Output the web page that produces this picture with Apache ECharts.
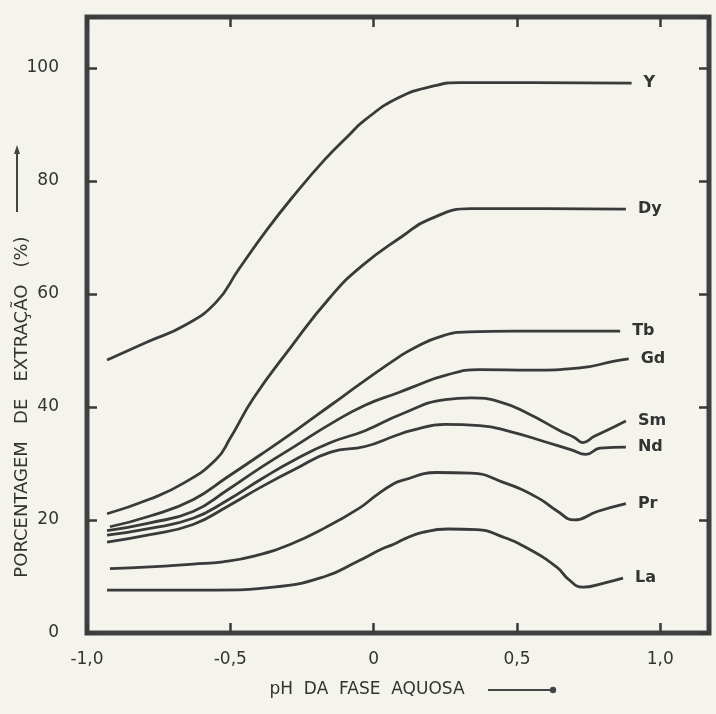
<!DOCTYPE html>
<html>
<head>
<meta charset="utf-8">
<script src="https://cdn.jsdelivr.net/npm/echarts@6/dist/echarts.min.js"></script>
<style>
html,body{margin:0;padding:0;background:#f4f3ec;}
#chart{width:716px;height:714px;}
</style>
</head>
<body>
<div id="chart"></div>
<script>
// pH ticks and y ticks
const xTicks = [-1.0, -0.5, 0, 0.5, 1.0];
const yTicks = [0, 20, 40, 60, 80, 100];
const elements = ['Y', 'Dy', 'Tb', 'Gd', 'Sm', 'Nd', 'Pr', 'La'];

// [pH, % extraction]
const Y  = [[-0.93,48.3],[-0.79,51.5],[-0.66,54.4],[-0.55,58.5],[-0.47,64.4],[-0.37,71.5],[-0.28,77.3],[-0.17,83.8],[-0.09,87.9],[-0.03,90.8],[0.09,94.8],[0.21,96.8],[0.30,97.4],[0.55,97.4],[0.90,97.3]];
const Dy = [[-0.93,21.1],[-0.78,23.7],[-0.66,26.6],[-0.55,30.7],[-0.50,34.5],[-0.42,41.5],[-0.29,50.5],[-0.15,59.5],[-0.04,65.0],[0.10,70.2],[0.19,73.1],[0.34,75.1],[0.60,75.1],[0.88,75.0]];
const Tb = [[-0.92,18.8],[-0.78,20.7],[-0.63,23.6],[-0.51,27.6],[-0.39,31.7],[-0.27,35.9],[-0.15,40.3],[-0.03,44.7],[0.09,48.9],[0.14,50.4],[0.23,52.4],[0.33,53.3],[0.49,53.4],[0.86,53.4]];
const Gd = [[-0.93,18.1],[-0.78,19.5],[-0.63,21.5],[-0.51,25.3],[-0.39,29.4],[-0.27,33.2],[-0.15,37.0],[-0.03,40.3],[0.09,42.6],[0.14,43.6],[0.25,45.6],[0.37,46.6],[0.55,46.5],[0.72,46.9],[0.84,48.1],[0.89,48.5]];
const Sm = [[-0.93,17.3],[-0.78,18.5],[-0.63,20.3],[-0.51,23.5],[-0.39,27.3],[-0.27,30.8],[-0.15,33.7],[-0.03,35.8],[0.10,38.8],[0.25,41.3],[0.34,41.6],[0.44,40.9],[0.54,38.8],[0.65,35.8],[0.70,34.6],[0.73,33.7],[0.77,34.8],[0.84,36.5],[0.88,37.5]];
const Nd = [[-0.93,16.1],[-0.78,17.4],[-0.63,19.2],[-0.51,22.4],[-0.39,25.9],[-0.27,29.1],[-0.15,32.0],[-0.03,33.0],[0.08,35.0],[0.13,35.8],[0.25,36.9],[0.37,36.7],[0.48,35.6],[0.60,33.8],[0.69,32.4],[0.74,31.6],[0.79,32.7],[0.88,32.9]];
const Pr = [[-0.92,11.4],[-0.78,11.7],[-0.63,12.2],[-0.525,12.6],[-0.41,13.7],[-0.29,15.7],[-0.17,18.6],[-0.05,22.1],[0.01,24.4],[0.07,26.4],[0.10,27.0],[0.22,28.4],[0.34,28.3],[0.45,26.7],[0.57,24.0],[0.64,21.6],[0.70,20.0],[0.78,21.5],[0.88,22.9]];
const La = [[-0.93,7.6],[-0.55,7.6],[-0.35,8.1],[-0.17,10.0],[-0.055,12.7],[0.03,14.9],[0.07,15.7],[0.11,16.7],[0.17,17.8],[0.26,18.4],[0.36,18.3],[0.45,17.0],[0.54,14.9],[0.64,11.6],[0.68,9.5],[0.73,8.1],[0.80,8.8],[0.87,9.7]];

const seriesData = [Y, Dy, Tb, Gd, Sm, Nd, Pr, La];

const INK = '#3a3a3a';
const FONT = 'DejaVu Sans';

function fmtX(v) {
  for (const t of xTicks) {
    if (Math.abs(v - t) < 1e-6) {
      if (t === 0) return '0';
      return t.toFixed(1).replace('.', ',');
    }
  }
  return '';
}
function fmtY(v) {
  return yTicks.indexOf(v) >= 0 ? String(v) : '';
}

const chart = echarts.init(document.getElementById('chart'), null, {renderer: 'canvas'});

const tickStyle = {show: true, inside: true, length: 10, lineStyle: {color: INK, width: 2.5}};
const noLine = {show: false, onZero: false};

const option = {
  backgroundColor: '#f4f3ec',
  animation: false,
  grid: {
    left: 87, right: 7, top: 17, bottom: 81,
    show: true, borderColor: '#404040', borderWidth: 5, backgroundColor: 'transparent'
  },
  xAxis: [
    {
      type: 'value', min: -1, max: 1.17, interval: 0.5, position: 'bottom',
      axisLine: noLine, splitLine: {show: false},
      axisTick: tickStyle,
      axisLabel: {formatter: fmtX, margin: 18, color: '#333', fontSize: 17, fontFamily: FONT}
    },
    {
      type: 'value', min: -1, max: 1.17, interval: 0.5, position: 'top',
      axisLine: noLine, splitLine: {show: false},
      axisTick: tickStyle, axisLabel: {show: false}
    }
  ],
  yAxis: [
    {
      type: 'value', min: 0, max: 109, interval: 20, position: 'left',
      axisLine: noLine, splitLine: {show: false},
      axisTick: tickStyle,
      axisLabel: {formatter: fmtY, margin: 28, color: '#333', fontSize: 17, fontFamily: FONT}
    },
    {
      type: 'value', min: 0, max: 109, interval: 20, position: 'right',
      axisLine: noLine, splitLine: {show: false},
      axisTick: tickStyle, axisLabel: {show: false}
    }
  ],
  series: elements.map((name, i) => ({
    name: name,
    type: 'line',
    data: seriesData[i],
    smooth: 0.5,
    symbol: 'none',
    lineStyle: {color: INK, width: 2.8},
    endLabel: {
      show: true, formatter: '{a}', distance: 12,
      color: '#333', fontSize: 16, fontWeight: 'bold', fontFamily: FONT
    }
  })),
  graphic: [
    {
      type: 'text', x: 22, y: 407, rotation: Math.PI / 2,
      style: {
        text: 'PORCENTAGEM   DE   EXTRAÇÃO   (%)',
        fill: '#333', font: '18px "DejaVu Sans"',
        textAlign: 'center', textVerticalAlign: 'middle'
      }
    },
    {type: 'line', shape: {x1: 17, y1: 212, x2: 17, y2: 152}, style: {stroke: '#444', lineWidth: 2}},
    {type: 'polygon', shape: {points: [[17, 145], [14, 154], [20, 154]]}, style: {fill: '#444'}},
    {
      type: 'text', x: 367, y: 690,
      style: {
        text: 'pH  DA  FASE  AQUOSA',
        fill: '#333', font: '17px "DejaVu Sans"',
        textAlign: 'center', textVerticalAlign: 'middle'
      }
    },
    {type: 'line', shape: {x1: 488, y1: 690, x2: 552, y2: 690}, style: {stroke: '#444', lineWidth: 2}},
    {type: 'circle', shape: {cx: 553, cy: 690, r: 3.2}, style: {fill: '#444'}}
  ]
};
chart.setOption(option);
</script>
</body>
</html>
